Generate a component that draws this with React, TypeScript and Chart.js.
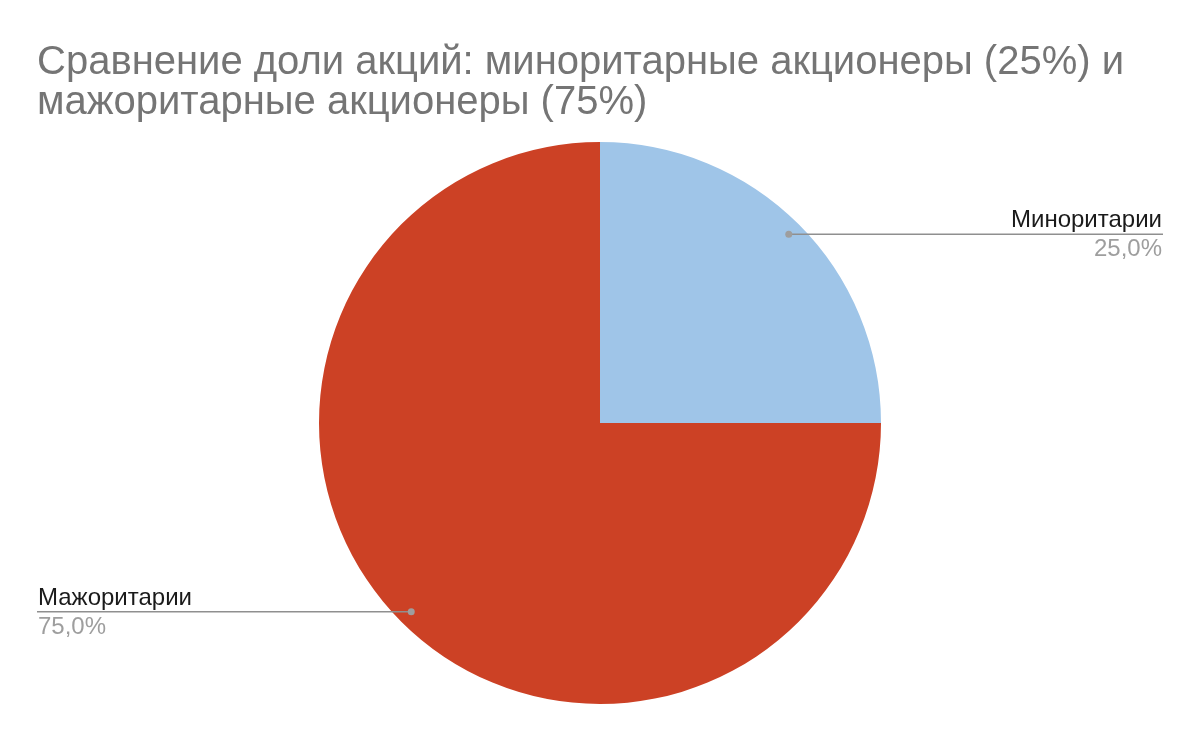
import { useEffect, useRef } from "react";
import { Chart, registerables, Plugin } from "chart.js";

Chart.register(...registerables);

const titleLines = [
  "Сравнение доли акций: миноритарные акционеры (25%) и",
  "мажоритарные акционеры (75%)",
];
const holders = ["Миноритарии", "Мажоритарии"];
const shares = [25, 75];
const sliceColors = ["#9fc5e8", "#cc4125"];

const FONT = "'Liberation Sans', Arial, Helvetica, sans-serif";

// leader lines + labels like the Sheets pie
const leaderLabels: Plugin<"pie"> = {
  id: "leaderLabels",
  afterDatasetsDraw(chart) {
    const { ctx } = chart;
    const meta = chart.getDatasetMeta(0);
    const values = chart.data.datasets[0].data as number[];
    const total = values.reduce((a, b) => a + b, 0);
    const edge = 37;
    meta.data.forEach((el, i) => {
      const arc = el as any;
      const mid = (arc.startAngle + arc.endAngle) / 2;
      const r = arc.outerRadius * 0.95;
      const px = arc.x + Math.cos(mid) * r;
      const py = arc.y + Math.sin(mid) * r;
      const right = Math.cos(mid) >= 0;
      const endX = right ? chart.width - edge : edge;

      ctx.save();
      ctx.strokeStyle = "#8f8f8f";
      ctx.lineWidth = 1.6;
      ctx.beginPath();
      ctx.moveTo(px, py);
      ctx.lineTo(endX, py);
      ctx.stroke();
      ctx.fillStyle = "#9e9e9e";
      ctx.beginPath();
      ctx.arc(px, py, 3.5, 0, Math.PI * 2);
      ctx.fill();

      const tx = right ? endX - 1 : endX + 1;
      ctx.textAlign = right ? "right" : "left";
      ctx.textBaseline = "alphabetic";
      ctx.font = `24px ${FONT}`;
      ctx.fillStyle = "#1a1a1a";
      ctx.fillText(String(chart.data.labels![i]), tx, py - 7);
      const pct = ((values[i] / total) * 100).toFixed(1).replace(".", ",") + "%";
      ctx.fillStyle = "#9e9e9e";
      ctx.fillText(pct, tx, py + 22);
      ctx.restore();
    });
  },
};

function SharePie() {
  const ref = useRef<HTMLCanvasElement | null>(null);
  const chartRef = useRef<Chart | null>(null);

  useEffect(() => {
    if (!ref.current) return;
    chartRef.current?.destroy();
    chartRef.current = new Chart(ref.current, {
      type: "pie",
      data: {
        labels: holders,
        datasets: [
          {
            data: shares,
            backgroundColor: sliceColors,
            borderWidth: 0,
            hoverOffset: 0,
          },
        ],
      },
      options: {
        animation: false,
        responsive: true,
        maintainAspectRatio: false,
        layout: { padding: { left: 37, right: 37, top: 0, bottom: 38 } },
        plugins: {
          legend: { display: false },
          tooltip: { enabled: false },
          title: {
            display: true,
            text: titleLines,
            align: "start",
            color: "#757575",
            font: { family: FONT, size: 40, weight: "normal", lineHeight: "40px" },
            padding: { top: 43, bottom: 19 },
          },
        },
      },
      plugins: [leaderLabels],
    });
    return () => {
      chartRef.current?.destroy();
      chartRef.current = null;
    };
  }, []);

  return (
    <div style={{ position: "relative", width: 1200, height: 742 }}>
      <canvas ref={ref} aria-label="Доли акций миноритариев и мажоритариев" />
    </div>
  );
}

export default function App() {
  return (
    <div style={{ position: "fixed", left: 0, top: 0, width: 1200, height: 742, background: "#fff" }}>
      <SharePie />
    </div>
  );
}
